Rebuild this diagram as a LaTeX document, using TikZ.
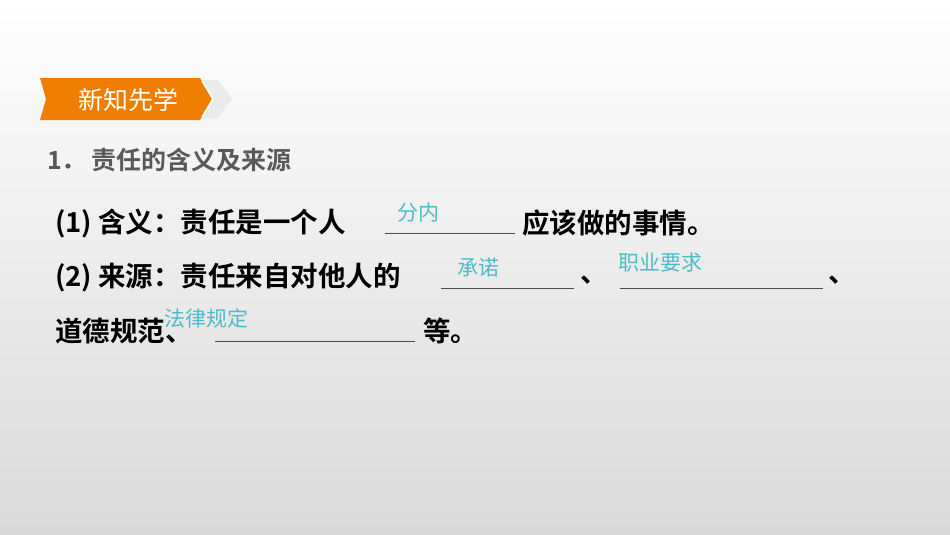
\documentclass[tikz,border=0pt]{standalone}
\usepackage{fontspec}
\setmainfont{Liberation Sans}
\newfontfamily\cjk{Noto Sans CJK SC}
\newfontfamily\cjkb{Noto Sans CJK SC Bold}
\definecolor{ansc}{HTML}{4DBCC8}
\definecolor{banc}{HTML}{EF7D00}
\begin{document}
\begin{tikzpicture}[x=1pt,y=-1pt,
 body/.style={anchor=west,inner sep=0pt,font=\fontsize{27.5}{27.5}\selectfont\cjkb,text=black},
 ans/.style={inner sep=0pt,font=\fontsize{21}{21}\selectfont\cjk,text=ansc},
 blank/.style={draw=black!70,line width=0.6pt}]
\shade[top color=white,bottom color=black!15] (0,0) rectangle (950,535);
\useasboundingbox (0,0) rectangle (950,535);
\fill[black!8] (200,80) -- (218,80) -- (232,99) -- (218,118) -- (200,118) -- cycle;
\fill[banc] (40,78) -- (200,78) -- (212,99) -- (200,120) -- (40,120) -- (46,99) -- cycle;
\draw[white,line width=1.5pt] (202,81) -- (213,99) -- (202,117);
\node[inner sep=0pt,font=\fontsize{25}{25}\selectfont\cjk,text=white] (ban) at (128,100) {新知先学};
\node[anchor=west,inner sep=0pt,font=\fontsize{25}{25}\selectfont\cjkb,text=black!65] (t1) at (47,160) {1．\,责任的含义及来源};
\node[body] (l1a) at (55,223) {(1) 含义：责任是一个人};
\coordinate (u1a) at (385,233); \coordinate (u1b) at (515,233);
\draw[blank] (u1a) -- (u1b);
\node[ans] (a1) at (418,213) {分内};
\node[body] (l1b) at (522,223) {应该做的事情。};
\node[body] (l2a) at (55,278) {(2) 来源：责任来自对他人的};
\coordinate (u2a) at (441,288); \coordinate (u2b) at (574,288);
\draw[blank] (u2a) -- (u2b);
\node[body] (s1) at (580,280) {、};
\coordinate (u3a) at (620,288); \coordinate (u3b) at (823,288);
\draw[blank] (u3a) -- (u3b);
\node[body] (s2) at (828,280) {、};
\node[ans] (a2) at (478,268) {承诺};
\node[ans] (a3) at (660,263) {职业要求};
\node[body] (l3a) at (55,331) {道德规范、};
\coordinate (u4a) at (215,341); \coordinate (u4b) at (415,341);
\draw[blank] (u4a) -- (u4b);
\node[ans] (a4) at (206,318) {法律规定};
\node[body] (l3b) at (423,331) {等。};
\end{tikzpicture}
\end{document}
